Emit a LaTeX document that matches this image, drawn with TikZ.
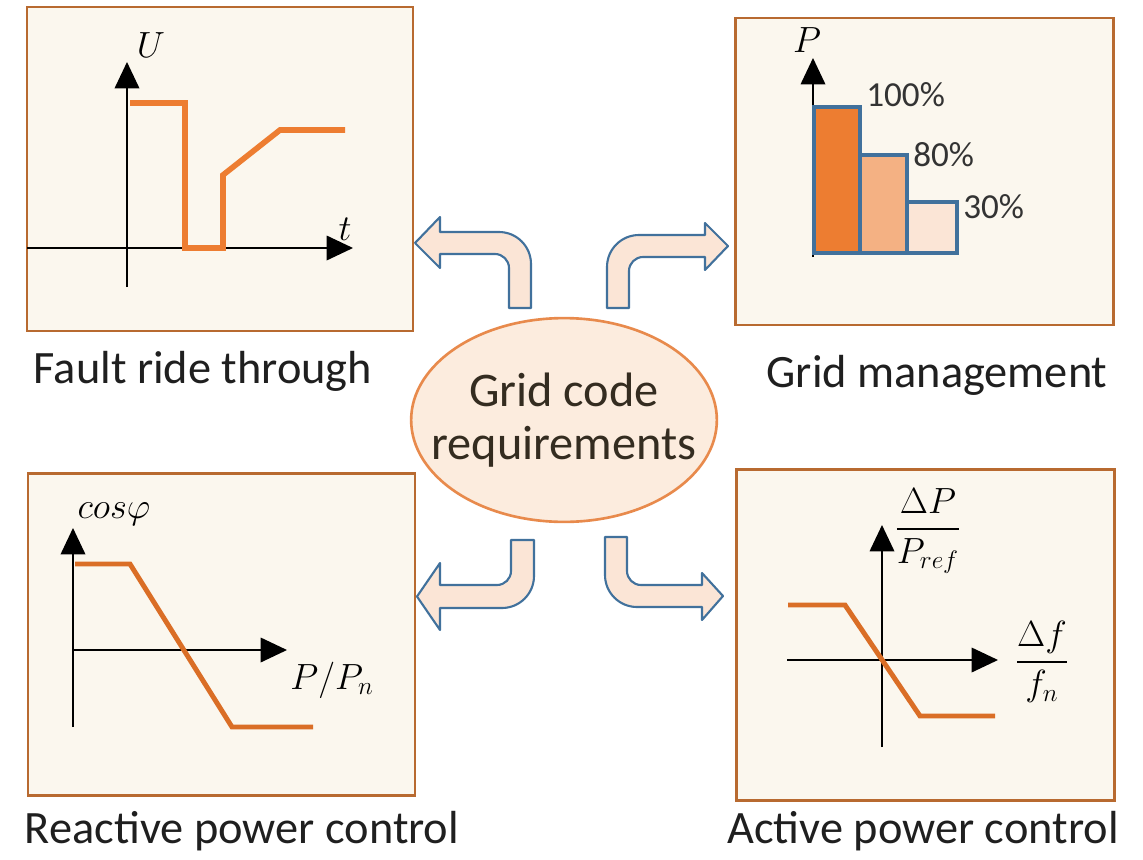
\documentclass[tikz,border=0pt]{standalone}
\usepackage{fontspec}
\setmainfont{Carlito}
\usepackage{amsmath}
\usetikzlibrary{
  arrows.meta,%
  % ellipse for the centre node
  shapes.geometric
}
\definecolor{panelfill}{RGB}{251,247,238}
\definecolor{paneledge}{RGB}{184,106,48}
\definecolor{curveorange}{RGB}{237,125,49}
\definecolor{curvedark}{RGB}{218,110,38}
\definecolor{arrowfill}{RGB}{251,229,214}
\definecolor{arrowedge}{RGB}{65,113,156}
\definecolor{ellfill}{RGB}{252,236,222}
\definecolor{elledge}{RGB}{232,138,76}
\definecolor{elltext}{RGB}{52,44,32}
\definecolor{barA}{RGB}{237,125,49}
\definecolor{barB}{RGB}{244,177,131}
\definecolor{barC}{RGB}{251,229,214}
\tikzset{>={Triangle[length=15pt,width=14pt]}}
\tikzset{panel/.style={draw=paneledge, fill=panelfill, line width=1.7pt}}
\tikzset{axis/.style={black, line width=0.9pt}}
\tikzset{curve/.style={curveorange, line width=3.2pt}}
\tikzset{blockarrow/.style={draw=arrowedge, fill=arrowfill, line width=1.2pt, line join=round}}
\tikzset{caption/.style={font=\fontsize{26.4}{31}\selectfont, text=black!88, inner sep=0pt, anchor=base}}
\tikzset{mathlabel/.style={font=\fontsize{20.74}{24}\selectfont, inner sep=0pt}}
\tikzset{percent/.style={font=\fontsize{20}{24}\selectfont, text=black!80, inner sep=0pt, anchor=west}}

\begin{document}
\begin{tikzpicture}[x=0.02cm, y=-0.02cm]
  \useasboundingbox (0,0) rectangle (1143,859);
  % the four panels
  \draw[panel] (27,7) rectangle (413,331);
  \draw[panel] (735,18) rectangle (1113,325);
  \draw[panel] (28,473) rectangle (415,795);
  \draw[panel] (736,469) rectangle (1114,800);

  % fault ride through
  \draw[axis,->] (127,287) -- (127,62);
  \draw[axis,->] (27,248) -- (353,248);
  \node[mathlabel] (ulabel) at (151,45) {$U$};
  \node[mathlabel] (tlabel) at (345,229) {$t$};
  \draw[curve] (130,103) -- (185,103) -- (185,248) -- (223,248) -- (223,175)
    -- (280,130) -- (345,130);

  % grid management
  \draw[axis,->] (813,257) -- (813,58);
  \node[mathlabel] (plabel) at (807,40) {$P$};
  \foreach \xa/\xb/\ytop/\col in {814/860/107/barA, 860/907/155/barB, 907/957/202/barC}
    \draw[draw=arrowedge, line width=1.8pt, fill=\col] (\xa,\ytop) rectangle (\xb,253);
  \foreach \x/\y/\pct in {866/95/100, 913/155/80, 963/207/30}
    \node[percent] (pct\pct) at (\x,\y) {\pct\%};

  % reactive power control
  \draw[axis,->] (73,727) -- (73,528);
  \draw[axis,->] (72,650) -- (287,650);
  \node[mathlabel] (coslabel) at (114,514) {$cos\varphi$};
  \node[mathlabel] (pnlabel) at (332,680) {$P/P_n$};
  \draw[curve, curvedark, line width=2.8pt] (75,564) -- (130,564) -- (232,727) -- (313,727);

  % active power control
  \draw[axis,->] (882,747) -- (882,525);
  \draw[axis,->] (787,660) -- (998,660);
  \node[mathlabel] (dplabel) at (928,531) {$\dfrac{\Delta P}{P_{ref}}$};
  \node[mathlabel] (dflabel) at (1042,662) {$\dfrac{\Delta f}{f_n}$};
  \draw[curve, curvedark, line width=2.8pt] (788,605) -- (845,605) -- (920,716) -- (995,716);

  % bent block arrows
  \draw[blockarrow] (509,308) -- (509,268) .. controls (509,260.3) and (502.7,254) .. (495,254)
    -- (440,254) -- (440,268) -- (415,243) -- (440,217) -- (440,232) -- (499,232)
    .. controls (516.7,232) and (531,246.3) .. (531,264) -- (531,308) -- cycle;
  \draw[blockarrow] (607,308) -- (607,267) .. controls (607,249.3) and (621.3,235) .. (639,235)
    -- (705,235) -- (705,223) -- (728,246) -- (705,270) -- (705,257) -- (643,257)
    .. controls (635.3,257) and (629,263.3) .. (629,271) -- (629,308) -- cycle;
  \draw[blockarrow] (511,540) -- (511,571) .. controls (511,578.7) and (504.7,585) .. (497,585)
    -- (440,585) -- (440,563) -- (417,596.5) -- (440,630) -- (440,608) -- (502,608)
    .. controls (519.7,608) and (534,593.7) .. (534,576) -- (534,540) -- cycle;
  \draw[blockarrow] (605,537) -- (605,575) .. controls (605,592.7) and (619.3,607) .. (637,607)
    -- (702,607) -- (702,620) -- (723,596) -- (702,573) -- (702,585) -- (641,585)
    .. controls (633.3,585) and (627,578.7) .. (627,571) -- (627,537) -- cycle;

  % centre
  \node[ellipse, draw=elledge, fill=ellfill, line width=1.5pt, minimum width=174pt,
    minimum height=116pt, inner sep=0pt] (grc) at (564,420) {};
  \node[align=center, text=elltext, inner sep=0pt,
    font=\fontsize{27.5}{30}\selectfont] (grctext) at (grc.center) {Grid code\\requirements};

  % captions
  \node[caption] (ftr) at (203,383) {Fault ride through};
  \node[caption] (gm) at (937,387) {Grid management};
  \node[caption] (rpc) at (242,843) {Reactive power control};
  \node[caption] (apc) at (923,843) {Active power control};
\end{tikzpicture}
\end{document}
